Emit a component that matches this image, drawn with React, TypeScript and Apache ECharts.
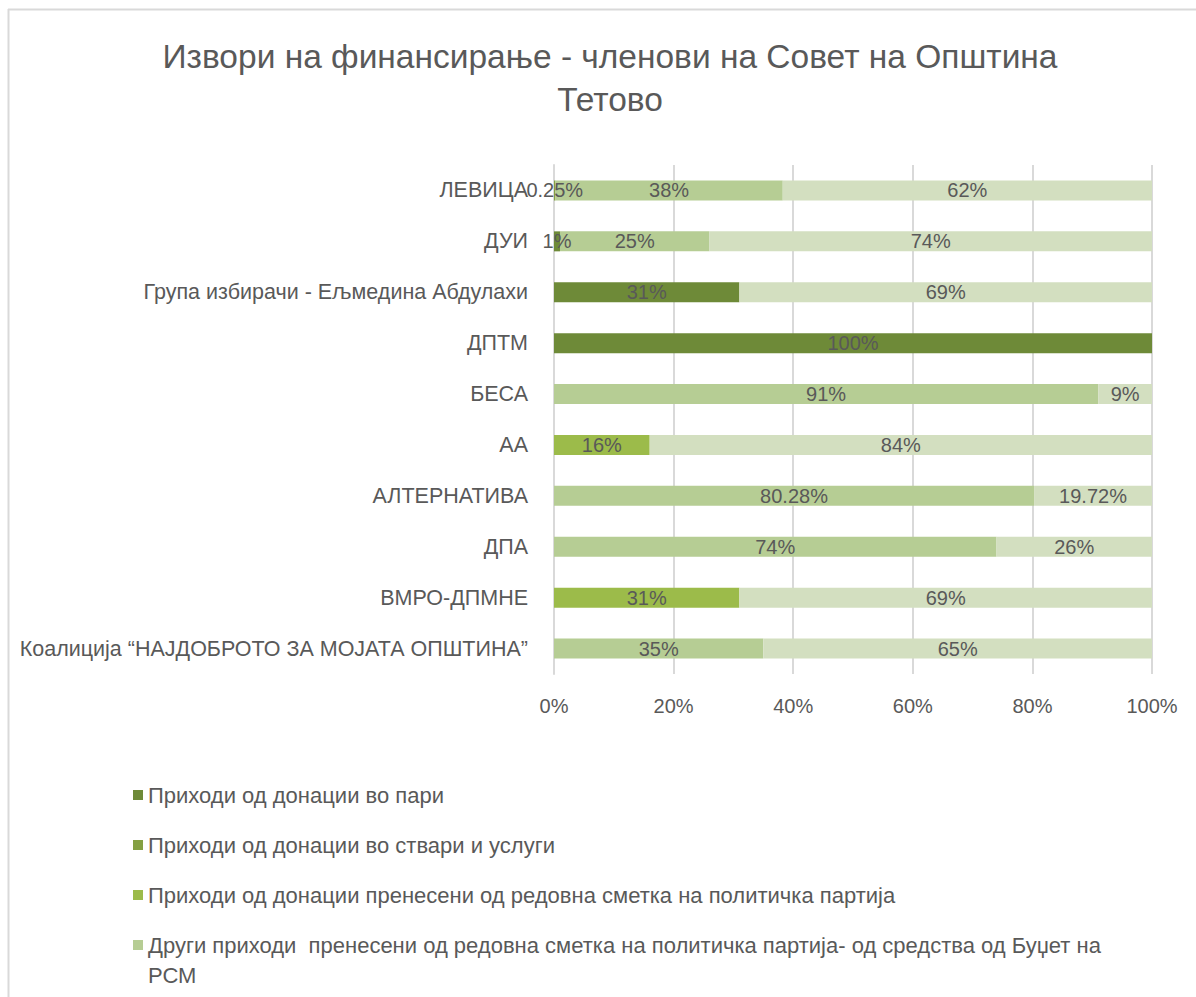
import React, { useEffect, useRef } from "react";
import * as echarts from "echarts";

const categories = [
  "ЛЕВИЦА",
  "ДУИ",
  "Група избирачи - Ељмедина Абдулахи",
  "ДПТМ",
  "БЕСА",
  "АА",
  "АЛТЕРНАТИВА",
  "ДПА",
  "ВМРО-ДПМНЕ",
  "Коалиција “НАЈДОБРОТО ЗА МОЈАТА ОПШТИНА”",
];

const seriesNames = [
  "Приходи од донации во пари",
  "Приходи од донации во ствари и услуги",
  "Приходи од донации пренесени од редовна сметка на политичка партија",
  "Други приходи  пренесени од редовна сметка на политичка партија- од средства од Буџет на РСМ",
  "Други приходи",
];

const cashDonations = [0, 1, 31, 100, 0, 0, 0, 0, 0, 0];
const inKindDonations = [0.25, 0, 0, 0, 0, 0, 0, 0, 0, 0];
const transferredDonations = [0, 0, 0, 0, 0, 16, 0, 0, 31, 0];
const budgetIncome = [38, 25, 0, 0, 91, 0, 80.28, 74, 0, 35];
const otherIncome = [62, 74, 69, 0, 9, 84, 19.72, 26, 69, 65];

const xTicks = [0, 20, 40, 60, 80, 100];

const colors = ["#6e8a38", "#84a042", "#9cbb4a", "#b6cd94", "#d3dfc0"];

const FONT = "Liberation Sans";
const TEXT = "#595959";
const FS = 20;

export default function App() {
  const ref = useRef<HTMLDivElement>(null);
  useEffect(() => {
    document.body.style.margin = "0";
    const chart = echarts.init(ref.current!, undefined, { renderer: "svg" });
    const allData = [cashDonations, inKindDonations, transferredDonations, budgetIncome, otherIncome];
    const legendCenters = [795, 845, 895, 945];
    const legends = seriesNames.slice(0, 4).map((name, i) => {
      const last = i === 3;
      return {
        orient: "vertical",
        left: 133,
        top: last ? legendCenters[i] - 45 : legendCenters[i] - 11,
        padding: 0,
        itemWidth: 10,
        itemHeight: 10,
        itemGap: 5,
        icon: "rect",
        data: [name],
        formatter: (n: string) =>
          n.endsWith(" РСМ") ? "\n" + n.slice(0, -4) + "\nРСМ" : n,
        textStyle: {
          fontFamily: FONT,
          fontSize: 22,
          color: TEXT,
          lineHeight: last ? 30 : 22,
        },
      };
    });
    const option: any = {
      animation: false,
      backgroundColor: "#ffffff",
      textStyle: { fontFamily: FONT },
      title: {
        text: "Извори на финансирање - членови на Совет на Општина\nТетово",
        left: 610,
        textAlign: "center",
        top: 35,
        padding: 0,
        textStyle: {
          fontFamily: FONT,
          fontSize: 33.5,
          fontWeight: "normal",
          color: TEXT,
          lineHeight: 43,
        },
      },
      legend: legends,
      grid: {
        left: 554,
        right: 44,
        top: 165,
        bottom: 323,
        outerBoundsMode: "none",
      },
      xAxis: {
        type: "value",
        min: 0,
        max: 100,
        interval: 20,
        axisLine: { show: false },
        axisTick: { show: false },
        splitLine: { lineStyle: { color: "#d9d9d9", width: 2 } },
        axisLabel: {
          fontFamily: FONT,
          fontSize: FS,
          color: TEXT,
          margin: 22,
          formatter: (v: number) => (xTicks.includes(v) ? `${v}%` : ""),
        },
      },
      yAxis: {
        type: "category",
        inverse: true,
        data: categories,
        axisLine: { show: true, lineStyle: { color: "#d9d9d9", width: 2 } },
        axisTick: { show: false },
        axisLabel: {
          fontFamily: FONT,
          fontSize: 21.5,
          color: TEXT,
          margin: 26,
        },
      },
      series: allData.map((d, i) => ({
        name: seriesNames[i],
        type: "bar",
        stack: "total",
        barWidth: 20,
        itemStyle: { color: colors[i] },
        label: {
          show: true,
          position: "inside",
          fontFamily: FONT,
          fontSize: FS,
          color: TEXT,
          formatter: (p: any) => (p.value ? `${p.value}%` : ""),
        },
        data: d,
      })),
      graphic: [
        {
          type: "line",
          shape: { x1: 8, y1: 9.5, x2: 1196, y2: 9.5 },
          style: { stroke: "#d9d9d9", lineWidth: 2 },
          silent: true,
        },
        {
          type: "line",
          shape: { x1: 8.5, y1: 9, x2: 8.5, y2: 997 },
          style: { stroke: "#d9d9d9", lineWidth: 2 },
          silent: true,
        },
      ],
    };
    chart.setOption(option);
    return () => chart.dispose();
  }, []);
  return <div ref={ref} style={{ width: 1196, height: 997 }} />;
}
